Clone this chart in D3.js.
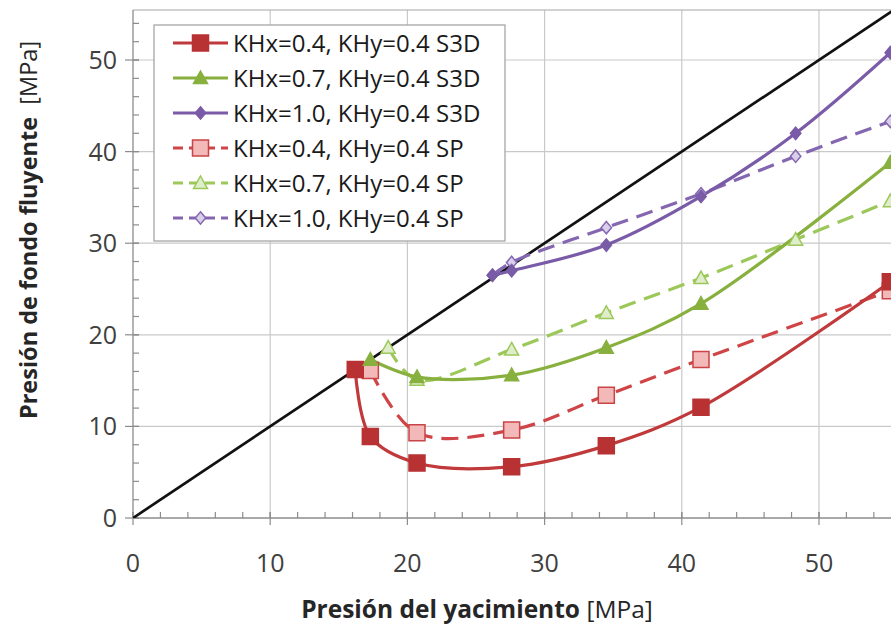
<!DOCTYPE html>
<html><head><meta charset="utf-8">
<script src="https://cdn.jsdelivr.net/npm/d3@7"></script>
<style>
html,body{margin:0;padding:0;background:#fff;}
svg{display:block;font-family:"Open Sans",sans-serif;}
</style></head>
<body><svg id="c" width="891" height="629"></svg>
<script>
// ---- data ----
const seriesNames = ["KHx=0.4, KHy=0.4 S3D","KHx=0.7, KHy=0.4 S3D","KHx=1.0, KHy=0.4 S3D","KHx=0.4, KHy=0.4 SP","KHx=0.7, KHy=0.4 SP","KHx=1.0, KHy=0.4 SP"];
const redS3D_x = [16.2, 17.3, 20.7, 27.6, 34.5, 41.4, 55.2];
const redS3D_y = [16.2, 8.9, 6.0, 5.6, 7.9, 12.1, 25.8];
const greenS3D_x = [17.3, 20.7, 27.6, 34.5, 41.4, 55.2];
const greenS3D_y = [17.3, 15.4, 15.6, 18.6, 23.4, 38.8];
const purpleS3D_x = [26.2, 27.6, 34.5, 41.4, 48.3, 55.2];
const purpleS3D_y = [26.5, 27.0, 29.8, 35.1, 42.0, 50.8];
const redSP_x = [17.3, 20.7, 27.6, 34.5, 41.4, 55.2];
const redSP_y = [16.1, 9.3, 9.6, 13.4, 17.3, 24.8];
const greenSP_x = [18.6, 20.7, 27.6, 34.5, 41.4, 48.3, 55.2];
const greenSP_y = [18.6, 15.1, 18.4, 22.4, 26.2, 30.4, 34.6];
const purpleSP_x = [26.2, 27.6, 34.5, 41.4, 48.3, 55.2];
const purpleSP_y = [26.5, 27.9, 31.7, 35.4, 39.5, 43.3];
const identity_x = [0, 60];
const xTicks = [0, 10, 20, 30, 40, 50];
const yTicks = [0, 10, 20, 30, 40, 50];
const xTitle = "Presión del yacimiento", xUnit = " [MPa]";
const yTitle = "Presión de fondo fluyente", yUnit = "  [MPa]";

// ---- styles ----
const styles = [
  {line:"#c0393b", dash:null, shape:"square", fill:"#b83234", stroke:"#b83234", size:16},
  {line:"#88b03e", dash:null, shape:"triangle", fill:"#88b03e", stroke:"#88b03e", size:14},
  {line:"#7a5ba8", dash:null, shape:"diamond", fill:"#7a5ba8", stroke:"#7a5ba8", size:13},
  {line:"#cf4446", dash:"17,9", shape:"square", fill:"#f3b9b9", stroke:"#c94446", size:16},
  {line:"#9cc85a", dash:"17,9", shape:"triangle", fill:"#e0edcb", stroke:"#9cc85a", size:14},
  {line:"#8467b0", dash:"17,9", shape:"diamond", fill:"#d9cfea", stroke:"#8467b0", size:13}
];
const data = [
  [redS3D_x, redS3D_y],[greenS3D_x, greenS3D_y],[purpleS3D_x, purpleS3D_y],
  [redSP_x, redSP_y],[greenSP_x, greenSP_y],[purpleSP_x, purpleSP_y]
].map(([xs,ys]) => xs.map((x,i)=>({x, y: ys[i]})));

const svg = d3.select("#c");
const L = 133, T = 10, R = 891, B = 518;
const x = d3.scaleLinear().domain([0, 55.25]).range([L, R]);
const y = d3.scaleLinear().domain([0, 55.46]).range([B, T]);

svg.append("defs").append("clipPath").attr("id","clip")
  .append("rect").attr("x",L).attr("y",T).attr("width",R-L).attr("height",B-T);

// gridlines
const grid = svg.append("g");
grid.selectAll(".gx").data(xTicks.filter(d=>d>0)).join("line")
  .attr("x1",d=>x(d)).attr("x2",d=>x(d)).attr("y1",T).attr("y2",B)
  .attr("stroke","#c9c9c9").attr("stroke-width",1.2);
grid.selectAll(".gy").data(yTicks.filter(d=>d>0)).join("line")
  .attr("y1",d=>y(d)).attr("y2",d=>y(d)).attr("x1",L).attr("x2",R)
  .attr("stroke","#c9c9c9").attr("stroke-width",1.2);
svg.append("line").attr("x1",L).attr("x2",R).attr("y1",T).attr("y2",T).attr("stroke","#a6a6a6").attr("stroke-width",1.2);

// axes
const axisColor = "#8c8c8c";
const xMinor = d3.range(0, 56, 2);
const yMinor = d3.range(0, 56, 2);
const ax = svg.append("g");
ax.append("line").attr("x1",L).attr("x2",R).attr("y1",B).attr("y2",B).attr("stroke",axisColor).attr("stroke-width",1.3);
ax.append("line").attr("x1",L).attr("x2",L).attr("y1",T).attr("y2",B).attr("stroke",axisColor).attr("stroke-width",1.3);
ax.selectAll(".mx").data(xMinor).join("line")
  .attr("x1",d=>x(d)).attr("x2",d=>x(d)).attr("y1",B).attr("y2",B-6).attr("stroke",axisColor).attr("stroke-width",1.2);
ax.selectAll(".Mx").data(xTicks).join("line")
  .attr("x1",d=>x(d)).attr("x2",d=>x(d)).attr("y1",B-6).attr("y2",B+7).attr("stroke",axisColor).attr("stroke-width",1.2);
ax.selectAll(".my").data(yMinor).join("line")
  .attr("y1",d=>y(d)).attr("y2",d=>y(d)).attr("x1",L).attr("x2",L+6).attr("stroke",axisColor).attr("stroke-width",1.2);
ax.selectAll(".My").data(yTicks).join("line")
  .attr("y1",d=>y(d)).attr("y2",d=>y(d)).attr("x1",L-8).attr("x2",L+6).attr("stroke",axisColor).attr("stroke-width",1.2);

// tick labels
svg.append("g").selectAll("text").data(xTicks).join("text")
  .attr("x",d=>x(d)).attr("y",572).attr("text-anchor","middle")
  .attr("font-size",25).attr("fill","#404040").text(d=>d);
svg.append("g").selectAll("text").data(yTicks).join("text")
  .attr("x",117).attr("y",d=>y(d)+9).attr("text-anchor","end")
  .attr("font-size",25).attr("fill","#404040").text(d=>d);

// axis titles
const xt = svg.append("text").attr("x",477).attr("y",618).attr("text-anchor","middle").attr("font-size",24.5).attr("fill","#262626").attr("xml:space","preserve");
xt.append("tspan").attr("font-weight","bold").text(xTitle);
xt.append("tspan").text(xUnit);
const yt = svg.append("text").attr("transform","translate(37,230) rotate(-90)").attr("text-anchor","middle").attr("font-size",23.5).attr("fill","#262626").attr("xml:space","preserve");
yt.append("tspan").attr("font-weight","bold").text(yTitle);
yt.append("tspan").text(yUnit);

// plot
const plot = svg.append("g").attr("clip-path","url(#clip)");
plot.append("line").attr("x1",x(identity_x[0])).attr("y1",y(identity_x[0]))
  .attr("x2",x(identity_x[1])).attr("y2",y(identity_x[1]))
  .attr("stroke","#111").attr("stroke-width",2.7);

const line = d3.line().x(d=>x(d.x)).y(d=>y(d.y)).curve(d3.curveCatmullRom.alpha(0.5));

function symbolPath(shape, size){
  const s = size/2;
  if(shape==="square") return `M${-s},${-s}H${s}V${s}H${-s}Z`;
  if(shape==="triangle") return `M0,${-s}L${s},${s*0.8}L${-s},${s*0.8}Z`;
  return `M0,${-s*0.95}L${s*0.8},0L0,${s*0.95}L${-s*0.8},0Z`;
}

const order = [3,4,5,0,1,2];
order.forEach(i=>{
  const st = styles[i];
  plot.append("path").datum(data[i]).attr("d",line).attr("fill","none")
    .attr("stroke",st.line).attr("stroke-width",3.2).attr("stroke-dasharray",st.dash);
});
order.forEach(i=>{
  const st = styles[i];
  svg.append("g").selectAll("path").data(data[i]).join("path")
    .attr("transform",d=>`translate(${x(d.x)},${y(d.y)})`)
    .attr("d",symbolPath(st.shape, st.size))
    .attr("fill",st.fill).attr("stroke",st.stroke).attr("stroke-width",1.5);
});

// legend
const lg = svg.append("g");
lg.append("rect").attr("x",154).attr("y",25).attr("width",351).attr("height",216)
  .attr("fill","#fff").attr("stroke","#a6a6a6").attr("stroke-width",1.3);
seriesNames.forEach((name,i)=>{
  const st = styles[i];
  const cy = 43 + i*35;
  lg.append("line").attr("x1",173).attr("x2",228).attr("y1",cy).attr("y2",cy)
    .attr("stroke",st.line).attr("stroke-width",3.2).attr("stroke-dasharray",st.dash ? "10,6" : null);
  lg.append("path").attr("transform",`translate(200.5,${cy})`).attr("d",symbolPath(st.shape, st.size))
    .attr("fill",st.fill).attr("stroke",st.stroke).attr("stroke-width",1.5);
  lg.append("text").attr("x",233).attr("y",cy+8.5).attr("font-size",24).attr("fill","#1a1a1a").text(name);
});
</script></body></html>
